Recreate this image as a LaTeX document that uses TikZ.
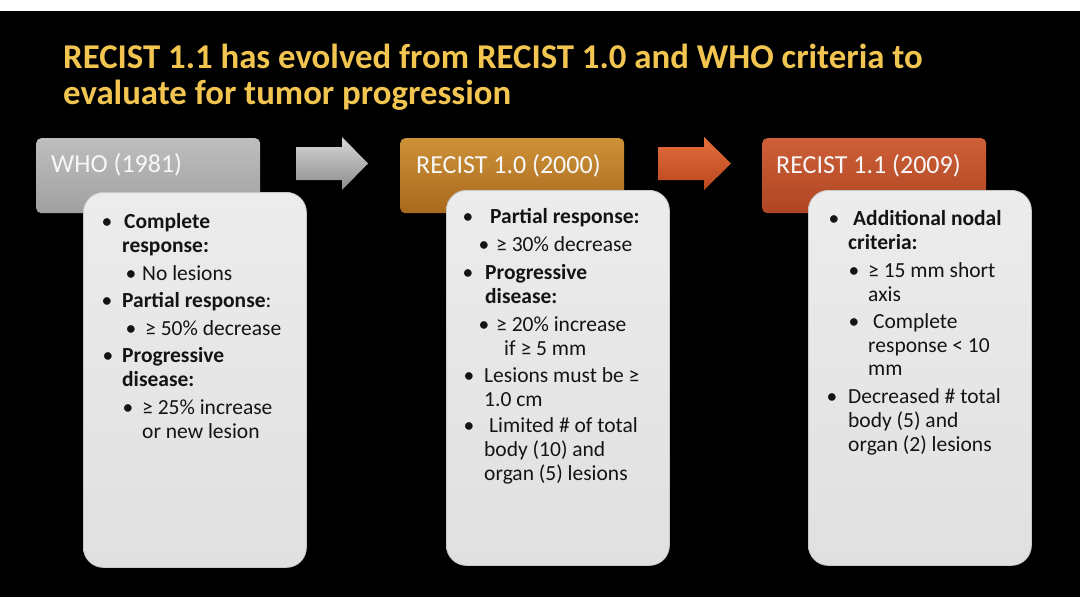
\documentclass[tikz,border=0pt]{standalone}
\usepackage{fontspec}
\setmainfont{Carlito}
\definecolor{titlecol}{RGB}{242,196,80}
\definecolor{whotop}{RGB}{190,190,190}
\definecolor{whobot}{RGB}{160,160,160}
\definecolor{r10top}{RGB}{205,145,55}
\definecolor{r10bot}{RGB}{168,105,30}
\definecolor{r11top}{RGB}{205,95,55}
\definecolor{r11bot}{RGB}{175,70,35}
\definecolor{ar1top}{RGB}{215,215,215}
\definecolor{ar1bot}{RGB}{140,140,140}
\definecolor{ar2top}{RGB}{228,110,60}
\definecolor{ar2bot}{RGB}{185,70,30}
\definecolor{boxtop}{RGB}{236,236,236}
\definecolor{boxbot}{RGB}{224,224,224}
\definecolor{boxrim}{RGB}{200,200,200}
\definecolor{ink}{RGB}{20,20,20}
\tikzset{
  title/.style={anchor=base west, inner sep=0pt, text=titlecol, font=\fontsize{34.8}{40}\selectfont\bfseries},
  hdr/.style={anchor=north west, rounded corners=5pt, minimum width=224pt, minimum height=75pt, inner sep=0pt},
  hdrtxt/.style={anchor=base west, inner sep=0pt, text=white!97!black, font=\fontsize{26}{30}\selectfont},
  cbox/.style={anchor=north west, rounded corners=20pt, minimum width=223pt, minimum height=375pt, inner sep=0pt, top color=boxtop, bottom color=boxbot, draw=boxrim, line width=0.8pt},
  ln/.style={anchor=base west, inner sep=0pt, text=ink, font=\fontsize{21.5}{25}\selectfont},
  bl/.style={anchor=base, inner sep=0pt, text=ink, font=\fontsize{21.5}{25}\selectfont},
}
\begin{document}
\begin{tikzpicture}[x=1pt,y=-1pt]
\useasboundingbox (0,0) rectangle (1080,608);
\fill[white] (0,0) rectangle (1080,608);
\fill[black] (0,11) rectangle (1080,597);

% title
\node[title] (t1) at (63,68) {RECIST 1.1 has evolved from RECIST 1.0 and WHO criteria to};
\node[title] (t2) at (63,104) {evaluate for tumor progression};

% headers
\node[hdr, top color=whotop, bottom color=whobot] (h1) at (36,138) {};
\node[hdr, top color=r10top, bottom color=r10bot] (h2) at (400,138) {};
\node[hdr, top color=r11top, bottom color=r11bot] (h3) at (762,138) {};
\node[hdrtxt] (h1t) at (51,172) {WHO (1981)};
\node[hdrtxt] (h2t) at (416,173) {RECIST 1.0 (2000)};
\node[hdrtxt] (h3t) at (776,173) {RECIST 1.1 (2009)};

% arrows
\shade[top color=ar1top, bottom color=ar1bot] (296,147) -- (342,147) -- (342,137) -- (368,163.5) -- (342,190) -- (342,180) -- (296,180) -- cycle;
\shade[top color=ar2top, bottom color=ar2bot] (658,147) -- (704,147) -- (704,137) -- (731,163.5) -- (704,190) -- (704,180) -- (658,180) -- cycle;

% content boxes
\node[cbox] (c1) at (83,192) {};
\node[cbox] (c2) at (446,190) {};
\node[cbox] (c3) at (808,190) {};

% WHO content
\node[bl] (w1b) at (107,228) {•};
\node[ln] (w1) at (124,228) {\bfseries Complete};
\node[ln] (w2) at (122,252) {\bfseries response:};
\node[bl] (w3b) at (131,280) {•};
\node[ln] (w3) at (142,280) {No lesions};
\node[bl] (w4b) at (107,307) {•};
\node[ln] (w4) at (122,307) {\textbf{Partial response}:};
\node[bl] (w5b) at (131,335) {•};
\node[ln] (w5) at (145,335) {≥ 50\% decrease};
\node[bl] (w6b) at (108,362) {•};
\node[ln] (w6) at (122,362) {\bfseries Progressive};
\node[ln] (w7) at (122,386) {\bfseries disease:};
\node[bl] (w8b) at (128,414) {•};
\node[ln] (w8) at (142,414) {≥ 25\% increase};
\node[ln] (w9) at (142,438) {or new lesion};

% RECIST 1.0 content
\node[bl] (r1b) at (468,223) {•};
\node[ln] (r1) at (490,223) {\bfseries Partial response:};
\node[bl] (r2b) at (484,251) {•};
\node[ln] (r2) at (496,251) {≥ 30\% decrease};
\node[bl] (r3b) at (468,279) {•};
\node[ln] (r3) at (485,279) {\bfseries Progressive};
\node[ln] (r4) at (485,303) {\bfseries disease:};
\node[bl] (r5b) at (484,331) {•};
\node[ln] (r5) at (496,331) {≥ 20\% increase};
\node[ln] (r6) at (504,355) {if ≥ 5 mm};
\node[bl] (r7b) at (469,382) {•};
\node[ln] (r7) at (484,382) {Lesions must be ≥};
\node[ln] (r8) at (484,406) {1.0 cm};
\node[bl] (r9b) at (469,432) {•};
\node[ln] (r9) at (489,432) {Limited \# of total};
\node[ln] (r10) at (484,456) {body (10) and};
\node[ln] (r11) at (484,480) {organ (5) lesions};

% RECIST 1.1 content
\node[bl] (s1b) at (834,225) {•};
\node[ln] (s1) at (853,225) {\bfseries Additional nodal};
\node[ln] (s2) at (848,249) {\bfseries criteria:};
\node[bl] (s3b) at (854,277) {•};
\node[ln] (s3) at (868,277) {≥ 15 mm short};
\node[ln] (s4) at (868,301) {axis};
\node[bl] (s5b) at (854,328) {•};
\node[ln] (s5) at (873,328) {Complete};
\node[ln] (s6) at (868,352) {response < 10};
\node[ln] (s7) at (868,375) {mm};
\node[bl] (s8b) at (832,403) {•};
\node[ln] (s8) at (848,403) {Decreased \# total};
\node[ln] (s9) at (848,427) {body (5) and};
\node[ln] (s10) at (848,451) {organ (2) lesions};
\end{tikzpicture}
\end{document}
